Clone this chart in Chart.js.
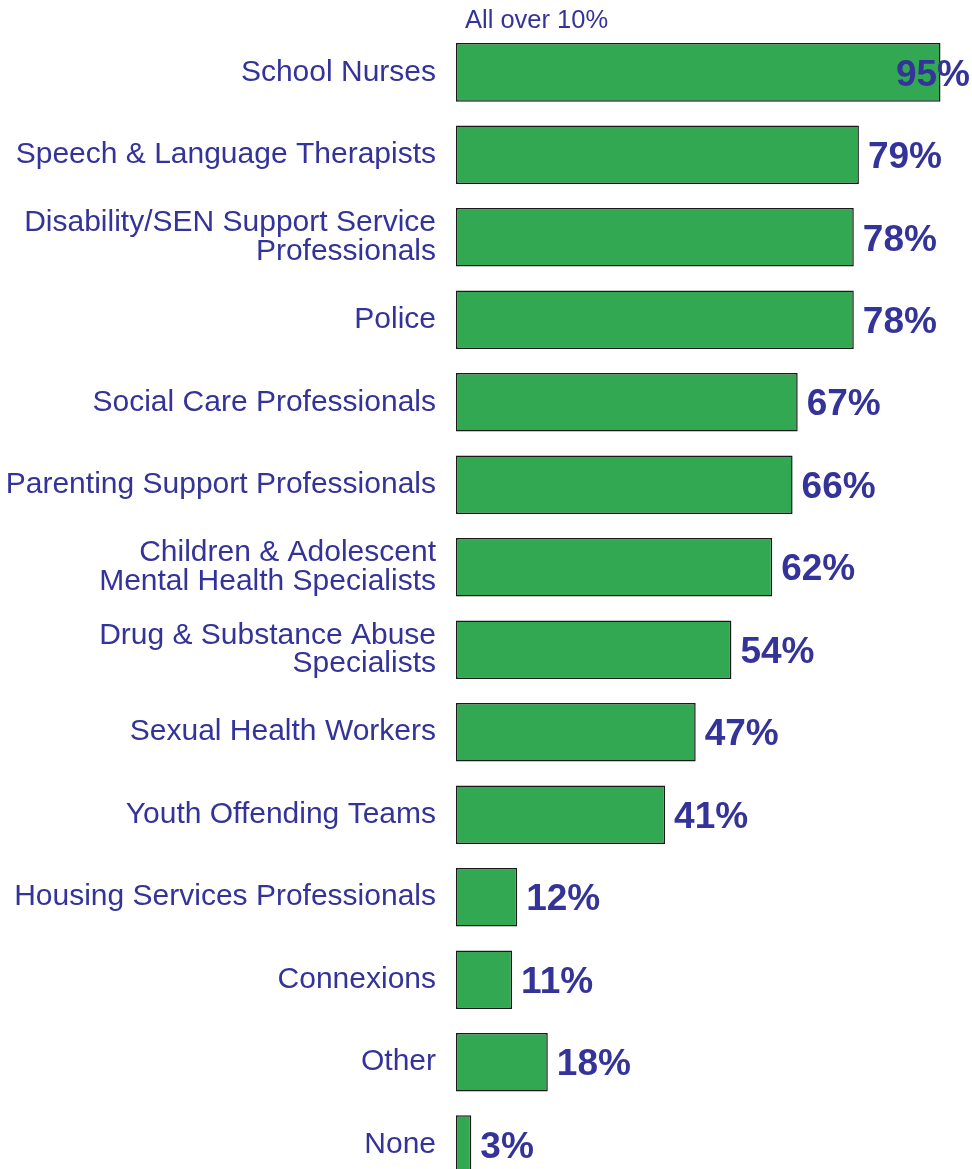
<!DOCTYPE html>
<html>
<head>
<meta charset="utf-8">
<script src="https://cdn.jsdelivr.net/npm/chart.js@4/dist/chart.umd.min.js"></script>
<style>
  html, body { margin: 0; padding: 0; background: #fff; overflow: hidden; }
  #myChart { display: block; margin-top: -3px; }
</style>
</head>
<body>
<canvas id="myChart" width="972" height="1223"></canvas>
<script>
// categories, top to bottom
var labels = [
  "School Nurses",
  "Speech & Language Therapists",
  ["Disability/SEN Support Service", "Professionals"],
  "Police",
  "Social Care Professionals",
  "Parenting Support Professionals",
  ["Children & Adolescent", "Mental Health Specialists"],
  ["Drug & Substance Abuse", "Specialists"],
  "Sexual Health Workers",
  "Youth Offending Teams",
  "Housing Services Professionals",
  "Connexions",
  "Other",
  "None"
];
var values = [95, 79, 78, 78, 67, 66, 62, 54, 47, 41, 12, 11, 18, 3];
var note = "All over 10%";

var textBlue = '#333399';
var fontFam = '"Liberation Sans", Arial, sans-serif';

// writes the % at the end of every bar, plus the small note on top
var valueLabels = {
  id: 'valueLabels',
  afterDatasetsDraw: function(chart) {
    var ctx = chart.ctx;
    var meta = chart.getDatasetMeta(0);
    ctx.save();
    ctx.fillStyle = textBlue;
    ctx.font = 'bold 37px ' + fontFam;
    ctx.textBaseline = 'middle';
    ctx.textAlign = 'left';
    meta.data.forEach(function(bar, i) {
      var txt = values[i] + '%';
      var w = ctx.measureText(txt).width;
      var x = bar.x + 9;
      if (x + w > chart.width - 2) {
        x = chart.width - 2 - w;
      }
      ctx.fillText(txt, x, bar.y + 3);
    });
    ctx.font = '25.5px ' + fontFam;
    ctx.fillText(note, chart.chartArea.left + 9, 24);
    ctx.restore();
  }
};

var ctx = document.getElementById('myChart').getContext('2d');
var myChart = new Chart(ctx, {
  type: 'bar',
  data: {
    labels: labels,
    datasets: [{
      data: values,
      backgroundColor: '#33a853',
      borderColor: '#1a1a1a',
      borderWidth: 1.5,
      borderSkipped: false,
      barPercentage: 0.71,
      categoryPercentage: 1
    }]
  },
  options: {
    indexAxis: 'y',
    responsive: false,
    animation: false,
    devicePixelRatio: 1,
    layout: { padding: { top: 25, right: 6, bottom: 0, left: 0 } },
    plugins: {
      legend: { display: false },
      tooltip: { enabled: false }
    },
    scales: {
      x: {
        display: false,
        min: 0,
        max: 100
      },
      y: {
        grid: { display: false, drawTicks: false },
        border: { display: false },
        ticks: {
          color: textBlue,
          padding: 20,
          autoSkip: false,
          font: { family: fontFam, size: 30, lineHeight: 0.94 }
        },
        afterFit: function(scale) { scale.width = 456; }
      }
    }
  },
  plugins: [valueLabels]
});
</script>
</body>
</html>
